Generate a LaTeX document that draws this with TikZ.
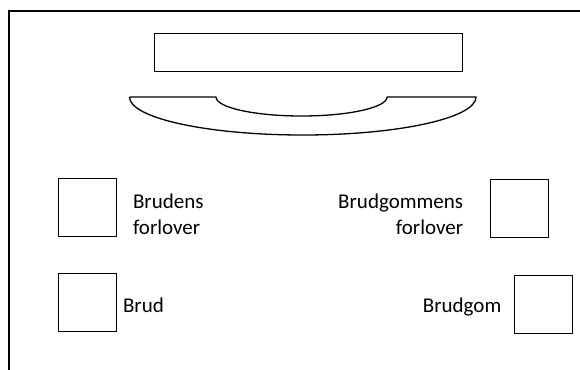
\documentclass[tikz,border=0pt]{standalone}
\usepackage{fontspec}
\setmainfont{Carlito}
\begin{document}
\begin{tikzpicture}[x=1pt,y=-1pt,
  seat/.style={draw,line width=1.3pt,minimum width=58pt,minimum height=58pt,inner sep=0pt,anchor=north west},
  lbl/.style={font=\fontsize{21}{25.3}\selectfont,inner sep=0pt},
  thick line/.style={line width=1.3pt}]
\useasboundingbox (0,0) rectangle (580,369);
% open frame
\draw[thick line] (9,375) -- (9,11) -- (590,11);
% altar
\node[draw,line width=1.3pt,minimum width=308pt,minimum height=38pt,inner sep=0pt,anchor=north west] (altar) at (153.5,33) {};
% table
\draw[thick line,line join=round] (129.5,97) -- (216,97)
  arc[start angle=180,end angle=360,x radius=85.5,y radius=-19]
  -- (476,97)
  arc[start angle=0,end angle=180,x radius=173.25,y radius=38];
% seats
\node[seat] (bfl) at (58,177.5) {};
\node[seat] (b) at (58,273) {};
\node[seat] (gfl) at (489.5,178.5) {};
\node[seat] (g) at (514,274.5) {};
% labels
\node[lbl,align=left,anchor=west] (tbfl) at (132.8,214.2) {Brudens\\forlover};
\node[lbl,anchor=base west] (tb) at (122.8,312.5) {Brud};
\node[lbl,align=right,anchor=east] (tgfl) at (463.3,214.2) {Brudgommens\\forlover};
\node[lbl,anchor=base east] (tg) at (501.5,312.5) {Brudgom};
\end{tikzpicture}
\end{document}
